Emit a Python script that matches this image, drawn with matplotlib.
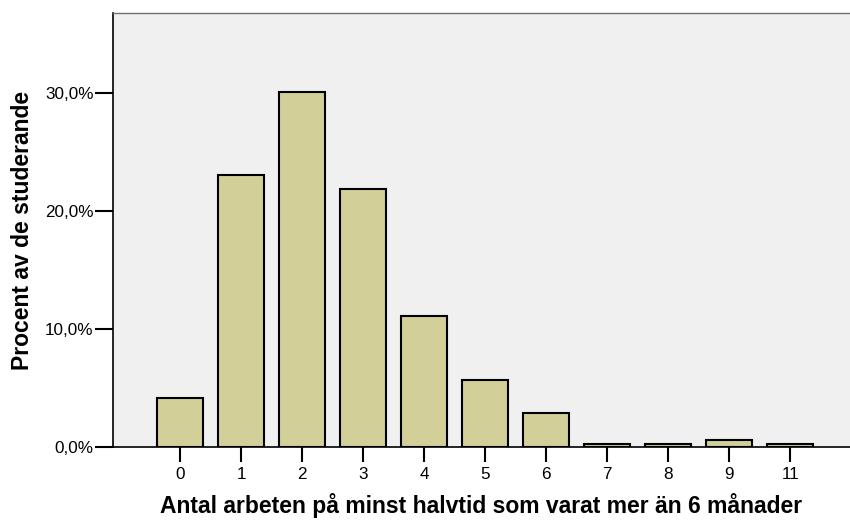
import matplotlib.pyplot as plt
from matplotlib.ticker import FuncFormatter

plt.rcParams['font.family'] = ['Liberation Sans', 'DejaVu Sans']

categories = ["0", "1", "2", "3", "4", "5", "6", "7", "8", "9", "11"]
percent = [4.2, 23.1, 30.1, 21.9, 11.1, 5.7, 2.9, 0.3, 0.3, 0.6, 0.3]

fig = plt.figure(figsize=(8.5, 5.2), dpi=100)
ax = fig.add_axes([0.133, 0.140, 0.867, 0.835])
ax.set_facecolor('#F0F0F0')

pos = list(range(len(categories)))
ax.bar(pos, percent, width=0.75, color='#D3CF98', edgecolor='black', linewidth=1.5, zorder=3)

ax.set_xlim(-1.1, 10.98)
ax.set_ylim(0, 36.8)
ax.set_xticks(pos)
ax.set_xticklabels(categories)
ax.set_yticks([0, 10, 20, 30])
ax.yaxis.set_major_formatter(FuncFormatter(lambda v, p: f"{v:.1f}%".replace(".", ",")))

ax.tick_params(axis='both', labelsize=12.3, colors='black', width=1.5)
ax.tick_params(axis='y', length=13, pad=1)
ax.tick_params(axis='x', length=11, pad=3)

ax.spines['left'].set_linewidth(1.2)
ax.spines['bottom'].set_linewidth(1.2)
ax.spines['top'].set_color('#707070')
ax.spines['top'].set_linewidth(1.0)
ax.spines['right'].set_visible(False)

ax.set_ylabel("Procent av de studerande", fontsize=16.5, fontweight='bold', labelpad=8)
ax.set_xlabel("Antal arbeten på minst halvtid som varat mer än 6 månader", fontsize=16.5, fontweight='bold', labelpad=8)

fig.savefig("out.png", dpi=100)
